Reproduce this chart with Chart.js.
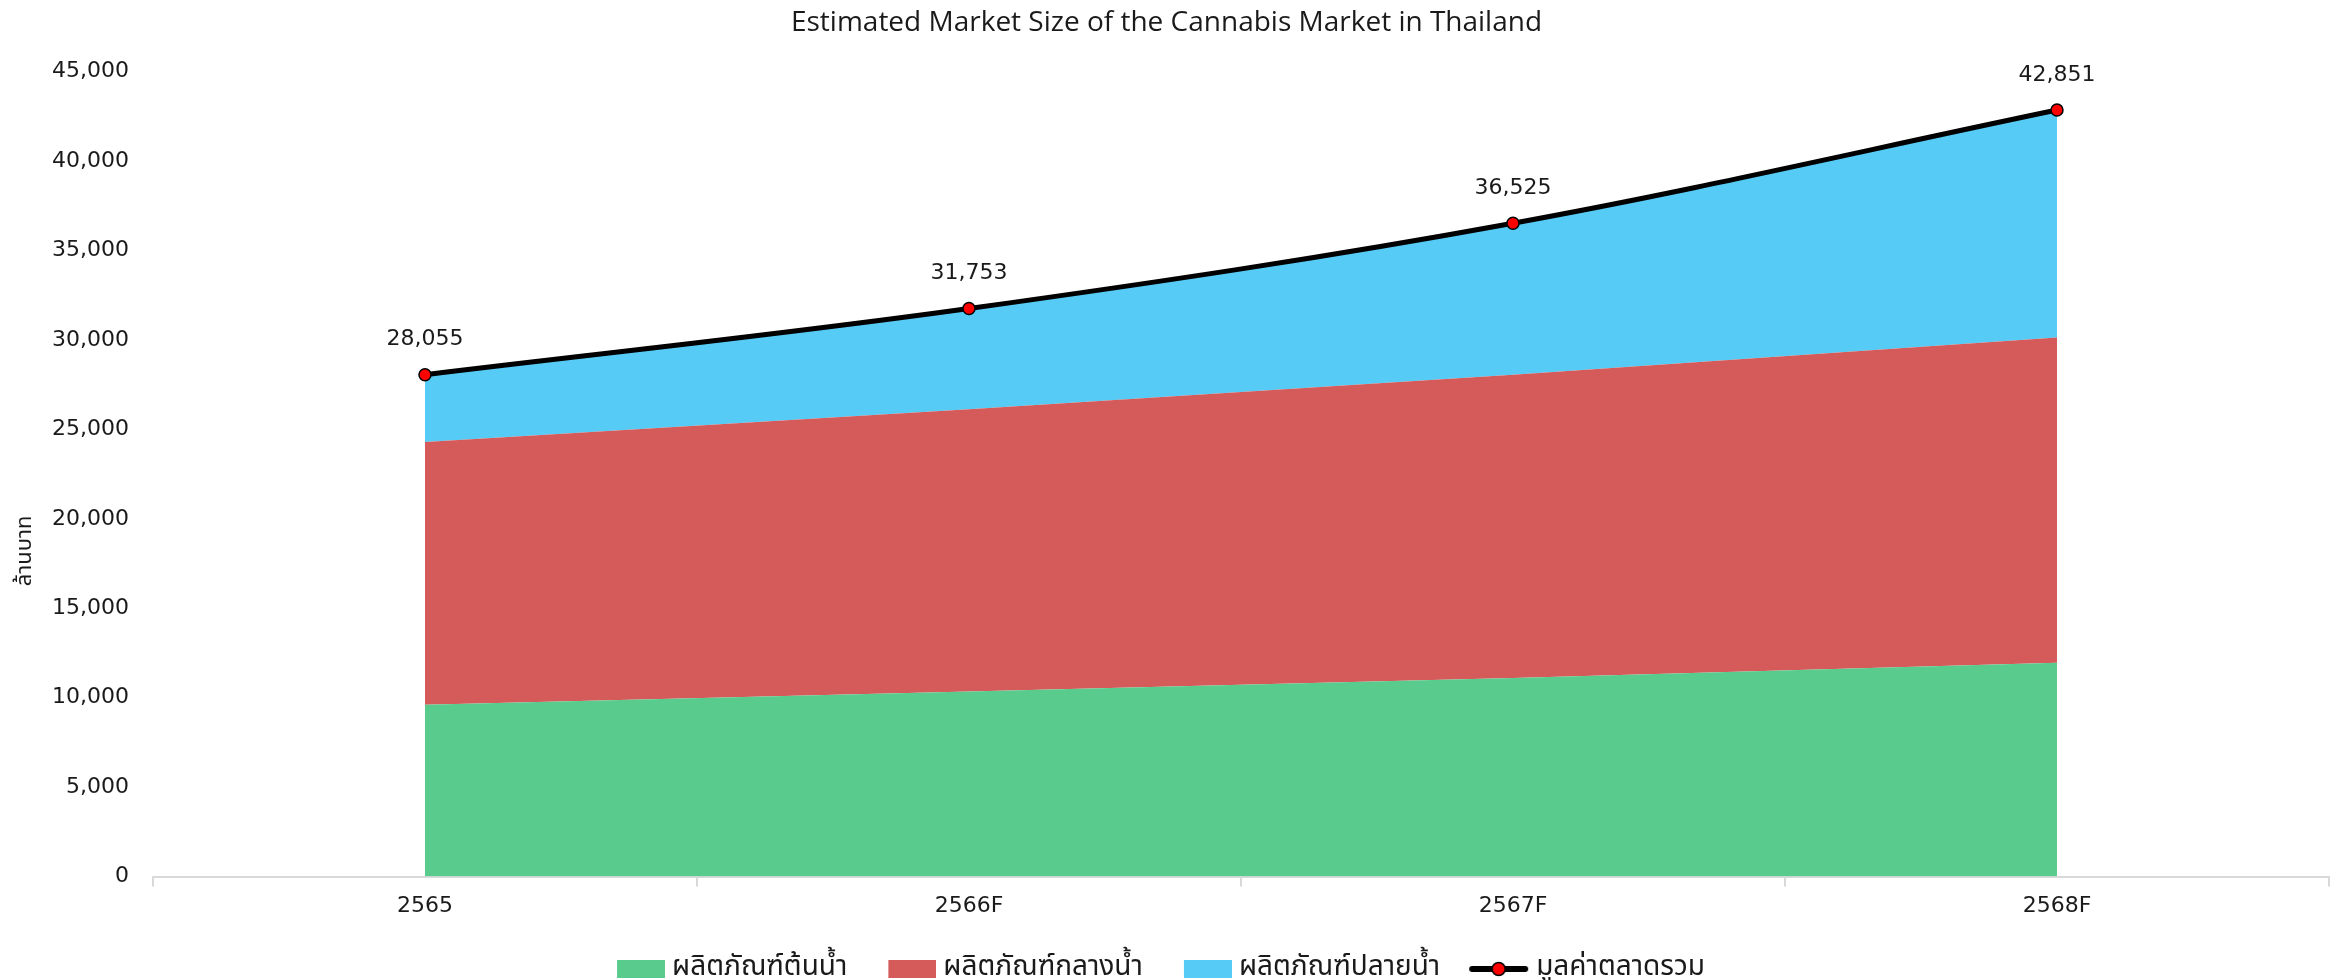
<!DOCTYPE html>
<html>
<head>
<meta charset="utf-8">
<script src="https://cdn.jsdelivr.net/npm/chart.js@4.4.1/dist/chart.umd.min.js"></script>
<style>
  html, body { margin: 0; padding: 0; background: #ffffff; }
  #wrap { width: 2344px; height: 980px; position: relative; }
</style>
</head>
<body>
<div id="wrap"><canvas id="c"></canvas></div>
<script>
// ---- data ----
const categories = ['2565', '2566F', '2567F', '2568F'];
const upstream   = [9600, 10350, 11100, 11950];   // ผลิตภัณฑ์ต้นน้ำ
const midstream  = [14700, 15780, 16950, 18190];  // ผลิตภัณฑ์กลางน้ำ
const downstream = [3755, 5623, 8475, 12711];     // ผลิตภัณฑ์ปลายน้ำ
const totalValue = [28055, 31753, 36525, 42851];  // มูลค่าตลาดรวม
const seriesNames = ['ผลิตภัณฑ์ต้นน้ำ', 'ผลิตภัณฑ์กลางน้ำ', 'ผลิตภัณฑ์ปลายน้ำ', 'มูลค่าตลาดรวม'];
const chartTitle = 'Estimated Market Size of the Cannabis Market in Thailand';
const yAxisTitle = 'ล้านบาท';

const GREEN = '#59cb8d';
const RED = '#d55a5a';
const BLUE = '#56cbf5';
const TEXT = '#1a1a1a';
const THAI = "'Noto Sans Thai', 'Noto Sans', 'DejaVu Sans', sans-serif";
const NUM = "'DejaVu Sans', sans-serif";

function rectIcon(color) {
  const c = document.createElement('canvas');
  c.width = 66; c.height = 18;
  const x = c.getContext('2d');
  x.fillStyle = color; x.fillRect(18, 0, 48, 18);
  return c;
}
function lineIcon() {
  const c = document.createElement('canvas');
  c.width = 66; c.height = 20;
  const x = c.getContext('2d');
  x.strokeStyle = '#000'; x.lineWidth = 6; x.lineCap = 'round';
  x.beginPath(); x.moveTo(9, 10); x.lineTo(62, 10); x.stroke();
  x.beginPath(); x.arc(35.5, 10, 6.5, 0, Math.PI * 2);
  x.fillStyle = '#ff0000'; x.fill();
  x.lineWidth = 1.5; x.strokeStyle = '#000'; x.stroke();
  return c;
}
const legendIcons = [rectIcon(GREEN), rectIcon(RED), rectIcon(BLUE), lineIcon()];

const labelPlugin = {
  id: 'pointLabels',
  afterDatasetsDraw(chart) {
    const meta = chart.getDatasetMeta(3);
    const ctx = chart.ctx;
    ctx.save();
    ctx.font = '22px ' + NUM;
    ctx.fillStyle = TEXT;
    ctx.textAlign = 'center';
    ctx.textBaseline = 'middle';
    meta.data.forEach((pt, i) => {
      ctx.fillText(totalValue[i].toLocaleString('en-US'), pt.x, pt.y - 35);
    });
    ctx.restore();
  }
};

const yTitlePlugin = {
  id: 'yTitle',
  afterDraw(chart) {
    const ctx = chart.ctx;
    ctx.save();
    ctx.translate(27, 551);
    ctx.rotate(-Math.PI / 2);
    ctx.font = '22px ' + THAI;
    ctx.fillStyle = TEXT;
    ctx.textAlign = 'center';
    ctx.textBaseline = 'middle';
    ctx.fillText(yAxisTitle, 0, 0);
    ctx.restore();
  }
};

const shiftPlugin = {
  id: 'boxShift',
  afterLayout(chart) {
    const t = chart.titleBlock;
    if (t) { t.left -= 16; t.right -= 16; }
    const l = chart.legend;
    if (l) { l.left -= 27; l.right -= 27; }
  }
};

new Chart(document.getElementById('c'), {
  type: 'line',
  data: {
    labels: categories,
    datasets: [
      { label: seriesNames[0], data: upstream, backgroundColor: GREEN, borderColor: GREEN, borderWidth: 0, fill: 'origin', pointRadius: 0, tension: 0 },
      { label: seriesNames[1], data: midstream, backgroundColor: RED, borderColor: RED, borderWidth: 0, fill: '-1', pointRadius: 0, tension: 0 },
      { label: seriesNames[2], data: downstream, backgroundColor: BLUE, borderColor: BLUE, borderWidth: 0, fill: '-1', pointRadius: 0, tension: 0.35 },
      { label: seriesNames[3], data: totalValue, stack: 'total', order: -1, borderColor: '#000000', backgroundColor: '#ff0000', borderWidth: 5, fill: false,
        tension: 0.35, pointRadius: 6, pointBorderWidth: 1.5, pointBorderColor: '#000000', pointBackgroundColor: '#ff0000', pointStyle: 'circle' }
    ]
  },
  options: {
    responsive: true,
    maintainAspectRatio: false,
    animation: false,
    devicePixelRatio: 1,
    layout: { padding: { left: 36, right: 15, top: 0, bottom: -13 } },
    plugins: {
      title: {
        display: true, text: chartTitle, color: TEXT,
        font: { family: "'Open Sans', 'DejaVu Sans', sans-serif", size: 28, weight: 'normal' },
        padding: { top: 6, bottom: 32 }
      },
      legend: {
        position: 'bottom',
        labels: {
          usePointStyle: true,
          pointStyleWidth: 52,
          boxHeight: 20,
          padding: 30,
          color: TEXT,
          font: { family: THAI, size: 28 },
          sort: (a, b) => a.datasetIndex - b.datasetIndex,
          generateLabels(chart) {
            const items = Chart.defaults.plugins.legend.labels.generateLabels(chart);
            items.forEach((it) => { it.pointStyle = legendIcons[it.datasetIndex]; it.lineWidth = 0; });
            return items;
          }
        }
      },
      tooltip: { enabled: false }
    },
    scales: {
      x: {
        offset: true,
        grid: { offset: true, drawOnChartArea: false, drawTicks: true, tickLength: 10, color: '#d9d9d9', lineWidth: 2 },
        border: { display: true, color: '#d9d9d9', width: 2 },
        ticks: { color: TEXT, font: { family: NUM, size: 22 }, padding: 6 }
      },
      y: {
        stacked: true,
        min: 0, max: 45000,
        grid: { display: false },
        border: { display: false },
        ticks: { stepSize: 5000, color: TEXT, font: { family: NUM, size: 22 }, padding: 16,
          callback: v => Number(v).toLocaleString('en-US') },
        title: { display: false }
      }
    }
  },
  plugins: [labelPlugin, yTitlePlugin, shiftPlugin]
});
</script>
</body>
</html>
